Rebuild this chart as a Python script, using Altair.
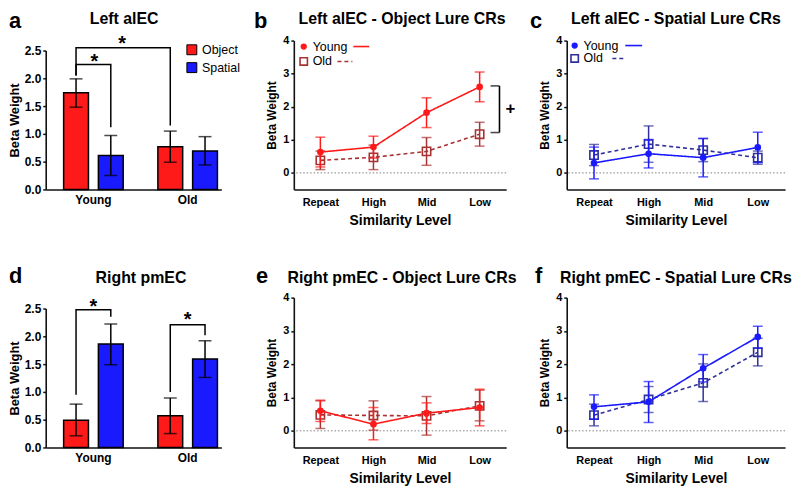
import altair as alt
import pandas as pd

FONT = "Liberation Sans"
RED = "#ff1a1a"
BLUE = "#1a1aff"
OLD_RED = "#a83232"
OLD_BLUE = "#30309a"

groups = ["Young", "Old"]
conds = ["Object", "Spatial"]
levels = ["Repeat", "High", "Mid", "Low"]

# bar panels, order: Young-Object, Young-Spatial, Old-Object, Old-Spatial
a_mean = [1.74, 0.61, 0.77, 0.69]
a_lo = [1.48, 0.25, 0.49, 0.44]
a_hi = [1.99, 0.97, 1.05, 0.95]
d_mean = [0.49, 1.86, 0.57, 1.59]
d_lo = [0.21, 1.49, 0.25, 1.26]
d_hi = [0.78, 2.22, 0.89, 1.92]

# significance brackets (segments drawn in order)
a_br_id = ["outer"] * 4 + ["inner"] * 4
a_br_group = ["Young", "Young", "Old", "Old", "Young", "Young", "Young", "Young"]
a_br_cond = ["Object", "Object", "Object", "Object", "Object", "Object", "Spatial", "Spatial"]
a_br_y = [2.05, 2.55, 2.55, 1.15, 2.05, 2.25, 2.25, 1.12]
d_br_id = ["young"] * 4 + ["old"] * 4
d_br_group = ["Young"] * 4 + ["Old"] * 4
d_br_cond = ["Object", "Object", "Spatial", "Spatial"] * 2
d_br_y = [0.95, 2.48, 2.48, 2.35, 1.0, 2.21, 2.21, 2.02]
a_star_y = [2.70, 2.39]
d_star_y = [2.61, 2.38]

# line panels
b_young = [0.63, 0.78, 1.82, 2.60]
b_young_lo = [0.18, 0.45, 1.37, 2.15]
b_young_hi = [1.08, 1.11, 2.27, 3.05]
b_old = [0.38, 0.47, 0.65, 1.17]
b_old_lo = [0.10, 0.10, 0.23, 0.81]
b_old_hi = [0.66, 0.84, 1.07, 1.53]
b_bracket = [1.22, 2.63]

c_young = [0.30, 0.58, 0.46, 0.77]
c_young_lo = [-0.18, 0.15, -0.12, 0.31]
c_young_hi = [0.78, 1.01, 1.04, 1.23]
c_old = [0.54, 0.87, 0.69, 0.46]
c_old_lo = [0.22, 0.32, 0.34, 0.26]
c_old_hi = [0.86, 1.42, 1.04, 0.66]

e_young = [0.60, 0.20, 0.53, 0.70]
e_young_lo = [0.28, -0.27, 0.22, 0.15]
e_young_hi = [0.92, 0.70, 0.84, 1.25]
e_old = [0.48, 0.46, 0.45, 0.75]
e_old_lo = [0.07, 0.02, -0.13, 0.30]
e_old_hi = [0.90, 0.90, 1.03, 1.22]

f_young = [0.72, 0.87, 1.88, 2.82]
f_young_lo = [0.35, 0.25, 1.47, 2.48]
f_young_hi = [1.08, 1.48, 2.29, 3.14]
f_old = [0.47, 0.94, 1.44, 2.36]
f_old_lo = [0.15, 0.55, 0.88, 1.95]
f_old_hi = [0.80, 1.33, 2.01, 2.78]


def text_layer(txt, x, y, size, weight="bold", align="left", baseline="alphabetic"):
    return alt.Chart(pd.DataFrame({"t": [txt]})).mark_text(
        text=txt, font=FONT, fontSize=size, fontWeight=weight, align=align,
        baseline=baseline, color="black"
    ).encode(x=alt.value(x), y=alt.value(y))


def bar_panel(mean, lo, hi, br_id, br_group, br_cond, br_y, letter, title, lpos, tpos,
              H, legend, stars):
    df = pd.DataFrame({
        "group": [g for g in groups for _ in conds],
        "cond": [c for _ in groups for c in conds],
        "mean": mean, "lo": lo, "hi": hi,
    })
    xs = alt.Scale(domain=groups, range=[0, 177], paddingInner=0.368,
                   paddingOuter=0.116, align=0.82)
    xax = alt.Axis(title=None, labelAngle=0, ticks=False, labelFontSize=12, labelPadding=5)
    ys = alt.Scale(domain=[0, 2.5], range=[H, H - 140], nice=False, zero=True)
    yax = alt.Axis(values=[0, 0.5, 1, 1.5, 2, 2.5], format=".1f", title="Beta Weight",
                   titleFontSize=13, labelFontSize=12, tickSize=3, titlePadding=3)
    xo = alt.XOffset("cond:N", scale=alt.Scale(domain=conds, paddingInner=0.286, paddingOuter=0))
    X = alt.X("group:N", scale=xs, axis=xax, sort=groups)
    if legend:
        leg = alt.Legend(orient="none", legendX=141, legendY=3, title=None, symbolType="square",
                         symbolSize=100, symbolStrokeColor="black", symbolStrokeWidth=1,
                         symbolOpacity=1, labelFontSize=12.5, labelFont=FONT,
                         labelFontWeight="normal", rowPadding=3, padding=0, labelOffset=4)
    else:
        leg = None
    base = alt.Chart(df)
    bars = base.mark_bar(stroke="black", strokeWidth=1.5).encode(
        x=X, xOffset=xo,
        y=alt.Y("mean:Q", scale=ys, axis=yax),
        color=alt.Color("cond:N", scale=alt.Scale(domain=conds, range=[RED, BLUE]), legend=leg),
    )
    err = base.mark_rule(color="black", strokeWidth=1.5).encode(
        x=X, xOffset=xo, y=alt.Y("lo:Q", scale=ys, axis=yax), y2="hi:Q")
    cap_lo = base.mark_tick(color="black", thickness=1.5, size=13).encode(
        x=X, xOffset=xo, y=alt.Y("lo:Q", scale=ys, axis=yax))
    cap_hi = base.mark_tick(color="black", thickness=1.5, size=13).encode(
        x=X, xOffset=xo, y=alt.Y("hi:Q", scale=ys, axis=yax))
    bdf = pd.DataFrame({"id": br_id, "group": br_group, "cond": br_cond, "y": br_y,
                        "seq": list(range(len(br_y)))})
    brs = []
    ids = list(dict.fromkeys(br_id))
    for k, bid in enumerate(ids):
        off = -2.5 if (legend and k == 0) else (2.5 if legend else 0)
        brs.append(alt.Chart(bdf).transform_filter(alt.datum.id == bid).mark_line(
            color="black", strokeWidth=1.5, xOffset=off).encode(
            x=X, xOffset=xo, y=alt.Y("y:Q", scale=ys, axis=yax), order="seq:Q"))
    star_layers = []
    for (g, yv, dx) in stars:
        sdf = pd.DataFrame({"group": [g], "y": [yv]})
        star_layers.append(alt.Chart(sdf).mark_text(
            text="*", font=FONT, fontSize=20, fontWeight="bold", dx=dx, dy=11, color="black",
            baseline="alphabetic").encode(x=X, y=alt.Y("y:Q", scale=ys, axis=yax)))
    texts = [text_layer(letter, lpos[0], lpos[1], 22),
             text_layer(title, tpos[0], tpos[1], 16, align="center")]
    return alt.layer(bars, err, cap_lo, cap_hi, *brs, *star_layers, *texts).properties(
        width=189, height=H)


def line_panel(ym, ylo, yhi, om, olo, ohi, ycol, ocol, letter, title, lpos, tpos, W, H,
               legend_pos=None, bracket=None):
    df = pd.DataFrame({
        "level": levels * 2, "idx": list(range(4)) * 2,
        "age": ["Young"] * 4 + ["Old"] * 4,
        "mean": ym + om, "lo": ylo + olo, "hi": yhi + ohi,
    })
    xs = alt.Scale(type="point", domain=levels, padding=0.5)
    xax = alt.Axis(title="Similarity Level", labelAngle=0, ticks=False, labelFontSize=11,
                   titleFontSize=14, labelPadding=7, titlePadding=6)
    ys = alt.Scale(domain=[-0.5, 4], nice=False, zero=False)
    yax = alt.Axis(values=[0, 1, 2, 3, 4], format="d", title="Beta Weight", titleFontSize=12,
                   labelFontSize=11, tickSize=3, titlePadding=4)
    X = alt.X("level:O", scale=xs, axis=xax, sort=levels)
    zero = alt.Chart(pd.DataFrame({"z": [0]})).mark_rule(
        color="#808080", strokeWidth=1, strokeDash=[1.5, 2]).encode(
        y=alt.Y("z:Q", scale=ys, axis=yax))
    layers = [zero]
    for age, col, dash, filled, shape, size in [
        ("Old", ocol, [4, 3], False, "square", 70),
        ("Young", ycol, [1, 0], True, "circle", 45),
    ]:
        sub = alt.Chart(df).transform_filter(alt.datum.age == age)
        layers.append(sub.mark_rule(color=col, strokeWidth=1.5).encode(
            x=X, y=alt.Y("lo:Q", scale=ys, axis=yax), y2="hi:Q"))
        layers.append(sub.mark_tick(color=col, thickness=1.5, size=10).encode(
            x=X, y=alt.Y("lo:Q", scale=ys, axis=yax)))
        layers.append(sub.mark_tick(color=col, thickness=1.5, size=10).encode(
            x=X, y=alt.Y("hi:Q", scale=ys, axis=yax)))
        layers.append(sub.mark_line(color=col, strokeWidth=1.6, strokeDash=dash).encode(
            x=X, y=alt.Y("mean:Q", scale=ys, axis=yax), order="idx:Q"))
        if filled:
            pm = sub.mark_point(color=col, filled=True, shape=shape, size=size, opacity=1)
        else:
            pm = sub.mark_point(color=col, filled=False, shape=shape, size=size,
                                strokeWidth=1.6, opacity=1)
        layers.append(pm.encode(x=X, y=alt.Y("mean:Q", scale=ys, axis=yax)))
    if bracket is not None:
        bdf = pd.DataFrame({"level": ["Low", "Low"], "y": bracket})
        rdf = pd.DataFrame({"level": ["Low"], "y1": [bracket[0]], "y2": [bracket[1]]})
        pdf = pd.DataFrame({"level": ["Low"], "y": [sum(bracket) / 2]})
        layers.append(alt.Chart(rdf).mark_rule(color="black", strokeWidth=1.6, xOffset=20).encode(
            x=X, y=alt.Y("y1:Q", scale=ys, axis=yax), y2="y2:Q"))
        layers.append(alt.Chart(bdf).mark_tick(color="black", thickness=1.6, size=9,
                                                xOffset=15.5).encode(
            x=X, y=alt.Y("y:Q", scale=ys, axis=yax)))
        layers.append(alt.Chart(pdf).mark_text(text="+", font=FONT, fontSize=17, fontWeight="bold",
                                               xOffset=31, baseline="middle", color="black").encode(
            x=X, y=alt.Y("y:Q", scale=ys, axis=yax)))
    if legend_pos is not None:
        cx, y1, y2, lx1, lx2, dx1, dx2 = legend_pos
        one = pd.DataFrame({"k": [0]})
        layers += [
            alt.Chart(one).mark_point(color=ycol, filled=True, shape="circle", size=40,
                                      opacity=1).encode(x=alt.value(cx), y=alt.value(y1)),
            text_layer("Young", cx + 9, y1, 12.5, weight="normal", baseline="middle"),
            alt.Chart(one).mark_rule(color=ycol, strokeWidth=1.6).encode(
                x=alt.value(lx1), x2=alt.value(lx2), y=alt.value(y1)),
            alt.Chart(one).mark_point(color=ocol, filled=False, shape="square", size=55,
                                      strokeWidth=1.6, opacity=1).encode(
                x=alt.value(cx), y=alt.value(y2)),
            text_layer("Old", cx + 9, y2, 12.5, weight="normal", baseline="middle"),
            alt.Chart(one).mark_rule(color=ocol, strokeWidth=1.6, strokeDash=[4, 3]).encode(
                x=alt.value(dx1), x2=alt.value(dx2), y=alt.value(y2)),
        ]
    layers += [text_layer(letter, lpos[0], lpos[1], 22),
               text_layer(title, tpos[0], tpos[1], 16, align="center")]
    return alt.layer(*layers).properties(width=W, height=H)


pa = bar_panel(a_mean, a_lo, a_hi, a_br_id, a_br_group, a_br_cond, a_br_y, "a", "Left alEC",
               (-37, -13), (79, -17), 150, True,
               [("Young", a_star_y[0], 29), ("Young", a_star_y[1], 1)])
pb = line_panel(b_young, b_young_lo, b_young_hi, b_old, b_old_lo, b_old_hi, RED, OLD_RED,
                "b", "Left alEC - Object Lure CRs", (-40, -13), (109, -17), 214, 150,
                legend_pos=(10, 6, 21, 60, 76, 44, 59), bracket=b_bracket)
pc = line_panel(c_young, c_young_lo, c_young_hi, c_old, c_old_lo, c_old_hi, BLUE, OLD_BLUE,
                "c", "Left alEC - Spatial Lure CRs", (-37, -13), (110, -17), 220, 150,
                legend_pos=(8, 5, 18, 59, 76, 46, 59))
pd_ = bar_panel(d_mean, d_lo, d_hi, d_br_id, d_br_group, d_br_cond, d_br_y, "d", "Right pmEC",
                (-37, -15), (96, -15), 151, False,
                [("Young", d_star_y[0], 0), ("Old", d_star_y[1], 0)])
pe = line_panel(e_young, e_young_lo, e_young_hi, e_old, e_old_lo, e_old_hi, RED, OLD_RED,
                "e", "Right pmEC - Object Lure CRs", (-38, -15), (109, -15), 214, 151)
pf = line_panel(f_young, f_young_lo, f_young_hi, f_old, f_old_lo, f_old_hi, BLUE, OLD_BLUE,
                "f", "Right pmEC - Spatial Lure CRs", (-32, -15), (110, -15), 220, 151)

chart = alt.concat(
    pa, pb, pc, pd_, pe, pf, columns=3, spacing={"row": 109, "column": 61},
    bounds="flush", align="each"
).resolve_scale(color="independent").resolve_legend(color="independent").properties(
    padding=0
).configure(font=FONT, background="white").configure_view(stroke=None).configure_axis(
    labelFont=FONT, titleFont=FONT, labelFontWeight="bold", titleFontWeight="bold",
    labelColor="black", titleColor="black", domainColor="#111", domainWidth=1.6,
    tickColor="#111", tickWidth=1.5, grid=False
)

chart.save("out.html", embed_options={"renderer": "svg", "actions": False})
